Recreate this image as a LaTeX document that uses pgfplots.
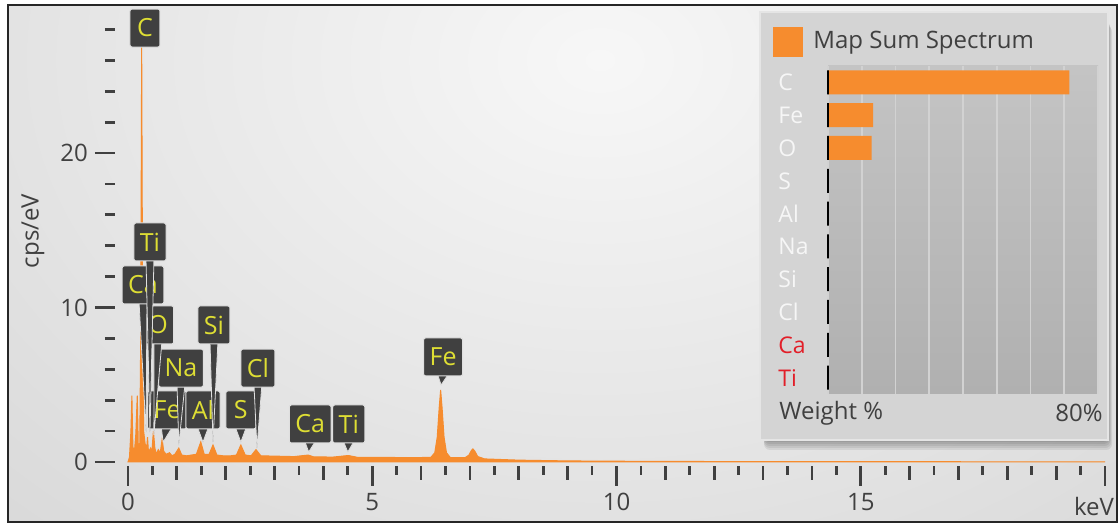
\documentclass[border=0pt]{standalone}
\usepackage{pgfplots}
\pgfplotsset{compat=1.18}
\usepackage{fontspec}
\setmainfont{Open Sans}
\definecolor{spec}{RGB}{246,140,46}
\definecolor{tickc}{RGB}{64,64,64}
\definecolor{lblbg}{RGB}{64,64,64}
\definecolor{lblfg}{RGB}{222,222,52}
\definecolor{bgin}{RGB}{247,247,247}
\definecolor{bgout}{RGB}{196,196,196}
\definecolor{panel}{RGB}{212,212,212}
\definecolor{barbgtop}{RGB}{196,196,196}
\definecolor{barbgbot}{RGB}{176,176,176}
\definecolor{gridc}{RGB}{210,210,210}
\definecolor{elred}{RGB}{226,30,40}
\definecolor{elwhite}{RGB}{246,246,246}

\tikzset{lbl/.style={fill=lblbg, draw=white!75!gray, line width=0.5pt, text=lblfg,
  font=\fontsize{12.5}{14}\selectfont, minimum height=19pt, minimum width=15pt,
  inner xsep=3pt, inner ysep=1pt, rounded corners=1pt}}

% [halfwidth] x y tipx tipy text
\newcommand{\elabel}[6][3pt]{%
  \filldraw[fill=lblbg, draw=white!75!gray, line width=0.4pt]
    ([xshift=-#1,yshift=-8pt]axis cs:#2,#3) -- ([xshift=#1,yshift=-8pt]axis cs:#2,#3)
    -- (axis cs:#4,#5) -- cycle;
  \node[lbl] at (axis cs:#2,#3) {#6};
}

\begin{document}
\begin{tikzpicture}
% ---------- background in pixel units ----------
\begin{scope}[x=0.5pt,y=-0.5pt,yshift=262pt]
  \fill[white] (0,0) rectangle (1120,524);
  \begin{scope}
    \clip (8,5) rectangle (1117,522);
    \shade[inner color=bgin, outer color=bgout] (-900,-1040) rectangle (2100,1160);
  \end{scope}
  \draw[black!85, line width=0.9pt] (8,5) rectangle (1117,522);
\end{scope}

% ---------- main spectrum axis ----------
\begin{axis}[
  at={(57.5pt,29pt)}, anchor=south west,
  scale only axis, width=495pt, height=230.5pt,
  xmin=-0.266, xmax=20, ymin=-0.259, ymax=29.58,
  axis lines*=left, axis line style={draw=none},
  tick align=outside,
  xtick={0,5,10,15,20}, xticklabels={0,5,10,15,{}},
  minor xtick={1,2,3,4,6,7,8,9,11,12,13,14,16,17,18,19},
  extra x ticks={0.5,1.5,2.5,3.5,4.5,5.5,6.5,7.5,8.5,9.5,10.5,11.5,12.5,13.5,14.5,15.5,16.5,17.5,18.5,19.5},
  extra x tick labels={},
  extra x tick style={major tick length=4.5pt},
  ytick={0,10,20},
  extra y ticks={2,4,6,8,12,14,16,18,22,24,26,28},
  extra y tick labels={},
  extra y tick style={major tick length=5pt},
  major tick length=10pt, minor tick length=7pt,
  tick style={tickc, line width=1.4pt},
  tick label style={text=tickc, font=\fontsize{12}{14}\selectfont},
  /pgf/number format/assume math mode=true,
  clip mode=individual,
]
\addplot[draw=spec, fill=spec, line width=0.5pt] coordinates {
(0.00,0) (0.03,0.3) (0.06,2.0) (0.08,4.3) (0.10,1.0) (0.13,0.6) (0.16,1.8) (0.19,4.3)
(0.21,1.2) (0.24,1.0) (0.26,8.0) (0.28,27.2) (0.30,9.0) (0.32,2.0) (0.35,1.2) (0.38,0.8)
(0.40,1.6) (0.42,0.6) (0.46,0.9) (0.49,0.7) (0.52,2.0) (0.55,0.9) (0.58,0.5) (0.62,0.8)
(0.66,0.6) (0.70,1.5) (0.73,0.7) (0.78,0.5) (0.85,0.6) (0.90,0.4) (0.96,0.5) (1.04,0.9)
(1.10,0.45) (1.20,0.4) (1.30,0.45) (1.40,0.5) (1.49,1.3) (1.56,0.5) (1.66,0.5) (1.74,1.1)
(1.82,0.45) (1.95,0.4) (2.10,0.4) (2.22,0.45) (2.31,1.1) (2.40,0.45) (2.52,0.4) (2.62,0.8)
(2.72,0.4) (3.00,0.38) (3.40,0.35) (3.69,0.45) (3.80,0.33) (4.20,0.32) (4.51,0.42) (4.70,0.3)
(5.20,0.3) (5.80,0.28) (6.20,0.3) (6.28,0.6) (6.33,1.6) (6.37,3.5) (6.40,4.66) (6.43,3.5)
(6.47,1.6) (6.52,0.6) (6.60,0.28) (6.90,0.28) (6.98,0.45) (7.03,0.75) (7.06,0.85) (7.10,0.7)
(7.16,0.35) (7.30,0.2) (8.00,0.12) (9.00,0.07) (10.0,0.05) (12.0,0.03) (15.0,0.02) (20.0,0.01)
} \closedcycle;

\elabel{0.80}{3.37}{0.72}{1.29}{Fe}
\elabel{1.535}{3.37}{1.535}{1.29}{Al}
\elabel{2.31}{3.37}{2.31}{1.29}{S}
\elabel[2pt]{1.085}{6.08}{1.04}{1.1}{Na}
\elabel[2pt]{2.66}{6.08}{2.64}{0.9}{Cl}
\elabel[2pt]{1.76}{8.87}{1.74}{1.29}{Si}
\elabel[2pt]{0.614}{8.87}{0.53}{1.75}{O}
\elabel[2pt]{0.307}{11.46}{0.37}{1.94}{Ca}
\elabel[2pt]{0.45}{14.24}{0.45}{1.94}{Ti}
\node[lbl] at (axis cs:0.348,28.09) {C};
\elabel{3.73}{2.46}{3.70}{0.65}{Ca}
\elabel{4.52}{2.46}{4.50}{0.65}{Ti}
\elabel{6.45}{6.8}{6.41}{4.98}{Fe}
\end{axis}

% axis titles
\node[rotate=90, text=tickc, font=\fontsize{12}{14}\selectfont] at (16.5pt,146.5pt) {cps/eV};
\node[text=tickc, font=\fontsize{12}{14}\selectfont] at (547pt,8.5pt) {keV};

% ---------- inset panel ----------
\begin{scope}[x=0.5pt,y=-0.5pt,yshift=262pt]
  \foreach \k in {2,4,6,8,10} {
    \fill[black, opacity=0.07, rounded corners=3] (764,16+\k) rectangle (1108+0.4*\k,440+\k);
  }
  \filldraw[fill=panel, draw=white!80!gray, line width=0.6pt] (760,12) rectangle (1108,440);
  \fill[spec] (773,27) rectangle (803,57);
  \node[anchor=west, text=tickc, font=\fontsize{12}{14}\selectfont, inner sep=0pt] at (813,43) {Map Sum Spectrum};
\end{scope}

\begin{axis}[
  at={(414pt,65pt)}, anchor=south west,
  scale only axis, width=135pt, height=164pt,
  xbar, bar width=12pt,
  xmin=0, xmax=80, ymin=0.5, ymax=10.5, y dir=reverse,
  xtick={0,10,...,80}, xticklabels={}, ytick=\empty,
  xmajorgrids, grid style={gridc, line width=0.8pt},
  major tick length=0pt, tick style={draw=none},
  axis line style={draw=none},
  axis background/.style={top color=barbgtop, bottom color=barbgbot},
  clip=false,
]
\addplot[fill=spec, draw=none, bar shift=0pt] coordinates {
(71.5,1) (13.4,2) (12.9,3) (0,4) (0,5) (0,6) (0,7) (0,8) (0,9) (0,10)};
\addplot[draw=black, fill=none, line width=1.4pt, bar shift=0pt] coordinates {
(0,1) (0,2) (0,3) (0,4) (0,5) (0,6) (0,7) (0,8) (0,9) (0,10)};
\foreach \lab/\r/\c in {C/1/elwhite, Fe/2/elwhite, O/3/elwhite, S/4/elwhite, Al/5/elwhite,
  Na/6/elwhite, Si/7/elwhite, Cl/8/elwhite, Ca/9/elred, Ti/10/elred} {
  \edef\temp{\noexpand\node[anchor=west, inner sep=0pt, text=\c, font=\noexpand\fontsize{11.5}{13}\noexpand\selectfont] at (axis cs:-14.8,\r) {\lab};}
  \temp
}
\node[anchor=west, inner sep=0pt, text=tickc, font=\fontsize{12}{14}\selectfont] at (axis cs:-14.5,11.08) {Weight \%};
\node[anchor=east, inner sep=0pt, text=tickc, font=\fontsize{12}{14}\selectfont] at (axis cs:81.5,11.08) {80\%};
\end{axis}

\pgfresetboundingbox
\useasboundingbox (0,0) rectangle (560pt,262pt);
\end{tikzpicture}
\end{document}
